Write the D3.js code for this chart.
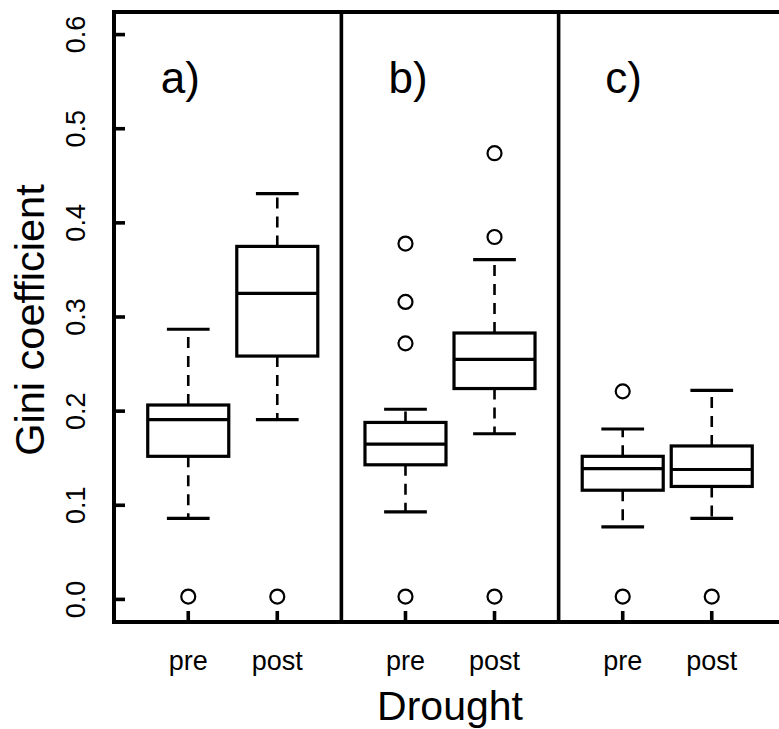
<!DOCTYPE html>
<html>
<head>
<meta charset="utf-8">
<script src="https://cdn.jsdelivr.net/npm/d3@7"></script>
<style>
  html, body { margin: 0; padding: 0; background: #fff; }
  svg { display: block; }
  text { font-family: "Liberation Sans", Arial, sans-serif; fill: #000; }
</style>
</head>
<body>
<svg id="chart" width="779" height="729"></svg>
<script>
// ---- data ----
const panels = ["a)", "b)", "c)"];
const groups = ["pre", "post", "pre", "post", "pre", "post"];
const positions = [1, 2, 3.44, 4.44, 5.88, 6.88];
const whiskerLow  = [0.086, 0.191, 0.093, 0.176, 0.077, 0.086];
const q1          = [0.152, 0.2585, 0.143, 0.224, 0.116, 0.120];
const median      = [0.191, 0.325, 0.165, 0.255, 0.139, 0.138];
const q3          = [0.2065, 0.375, 0.188, 0.283, 0.152, 0.163];
const whiskerHigh = [0.287, 0.431, 0.202, 0.361, 0.181, 0.222];
const outliers = [
  [0.003],
  [0.003],
  [0.003, 0.272, 0.316, 0.378],
  [0.003, 0.385, 0.474],
  [0.003, 0.221],
  [0.003]
];
const yTicks = [0.0, 0.1, 0.2, 0.3, 0.4, 0.5, 0.6];
const yTickLabels = ["0.0", "0.1", "0.2", "0.3", "0.4", "0.5", "0.6"];
const dividers = [2.72, 5.16];
const panelLabelX = [0.91, 3.47, 5.89];
const yLabel = "Gini coefficient";
const xLabel = "Drought";

// ---- layout ----
const svg = d3.select("#chart");
const x = d3.scaleLinear().domain([0.166, 7.714]).range([114, 786]);
const y = d3.scaleLinear().domain([-0.024, 0.624]).range([622, 12]);
const boxHalf = 0.455, stapleHalf = 0.24;

const plot = svg.append("g");
const bx = groups.map((g, i) => i);

// whiskers (dashed)
plot.selectAll(".wh-lo").data(bx).join("line")
  .attr("x1", i => x(positions[i])).attr("x2", i => x(positions[i]))
  .attr("y1", i => y(q1[i])).attr("y2", i => y(whiskerLow[i]))
  .attr("stroke", "#000").attr("stroke-width", 2.6).attr("stroke-dasharray", "11,8");
plot.selectAll(".wh-hi").data(bx).join("line")
  .attr("x1", i => x(positions[i])).attr("x2", i => x(positions[i]))
  .attr("y1", i => y(q3[i])).attr("y2", i => y(whiskerHigh[i]))
  .attr("stroke", "#000").attr("stroke-width", 2.6).attr("stroke-dasharray", "11,8");

// staples
[whiskerLow, whiskerHigh].forEach(arr => {
  plot.append("g").selectAll("line").data(bx).join("line")
    .attr("x1", i => x(positions[i] - stapleHalf)).attr("x2", i => x(positions[i] + stapleHalf))
    .attr("y1", i => y(arr[i])).attr("y2", i => y(arr[i]))
    .attr("stroke", "#000").attr("stroke-width", 3.2);
});

// boxes
plot.selectAll(".box").data(bx).join("rect")
  .attr("x", i => x(positions[i] - boxHalf))
  .attr("width", i => x(positions[i] + boxHalf) - x(positions[i] - boxHalf))
  .attr("y", i => y(q3[i]))
  .attr("height", i => y(q1[i]) - y(q3[i]))
  .attr("fill", "#fff").attr("stroke", "#000").attr("stroke-width", 3.2);

// medians
plot.selectAll(".med").data(bx).join("line")
  .attr("x1", i => x(positions[i] - boxHalf)).attr("x2", i => x(positions[i] + boxHalf))
  .attr("y1", i => y(median[i])).attr("y2", i => y(median[i]))
  .attr("stroke", "#000").attr("stroke-width", 3.2);

// outliers
const pts = [];
outliers.forEach((arr, i) => arr.forEach(v => pts.push({i, v})));
plot.selectAll(".out").data(pts).join("circle")
  .attr("cx", d => x(positions[d.i])).attr("cy", d => y(d.v))
  .attr("r", 7).attr("fill", "none").attr("stroke", "#000").attr("stroke-width", 2.2);

// y axis ticks (inward)
plot.selectAll(".ytick").data(yTicks).join("line")
  .attr("x1", x.range()[0]).attr("x2", x.range()[0] + 11)
  .attr("y1", d => y(d)).attr("y2", d => y(d))
  .attr("stroke", "#000").attr("stroke-width", 3.6);
svg.selectAll(".ylab").data(yTicks).join("text")
  .attr("transform", (d) => `translate(85,${y(d)}) rotate(-90)`)
  .attr("text-anchor", "middle")
  .attr("font-size", 27)
  .text((d, i) => yTickLabels[i]);

// x axis ticks (inward)
plot.selectAll(".xtick").data(positions).join("line")
  .attr("x1", d => x(d)).attr("x2", d => x(d))
  .attr("y1", y.range()[0]).attr("y2", y.range()[0] - 11)
  .attr("stroke", "#000").attr("stroke-width", 3.6);
svg.selectAll(".xlab").data(groups).join("text")
  .attr("x", (d, i) => x(positions[i]))
  .attr("y", 670)
  .attr("text-anchor", "middle")
  .attr("font-size", 27)
  .text(d => d);

// dividers
plot.selectAll(".div").data(dividers).join("line")
  .attr("x1", d => x(d)).attr("x2", d => x(d))
  .attr("y1", y.range()[1]).attr("y2", y.range()[0])
  .attr("stroke", "#000").attr("stroke-width", 3.6);

// frame
plot.append("rect")
  .attr("x", x.range()[0]).attr("y", y.range()[1])
  .attr("width", x.range()[1] - x.range()[0])
  .attr("height", y.range()[0] - y.range()[1])
  .attr("fill", "none").attr("stroke", "#000").attr("stroke-width", 4);

// panel labels
svg.selectAll(".plab").data(panels).join("text")
  .attr("x", (d, i) => x(panelLabelX[i]))
  .attr("y", 93)
  .attr("text-anchor", "middle")
  .attr("font-size", 44)
  .text(d => d);

// axis titles
svg.append("text")
  .attr("x", 450).attr("y", 720)
  .attr("text-anchor", "middle")
  .attr("font-size", 41)
  .text(xLabel);
svg.append("text")
  .attr("transform", "translate(44,320) rotate(-90)")
  .attr("text-anchor", "middle")
  .attr("font-size", 41.5)
  .text(yLabel);
</script>
</body>
</html>
